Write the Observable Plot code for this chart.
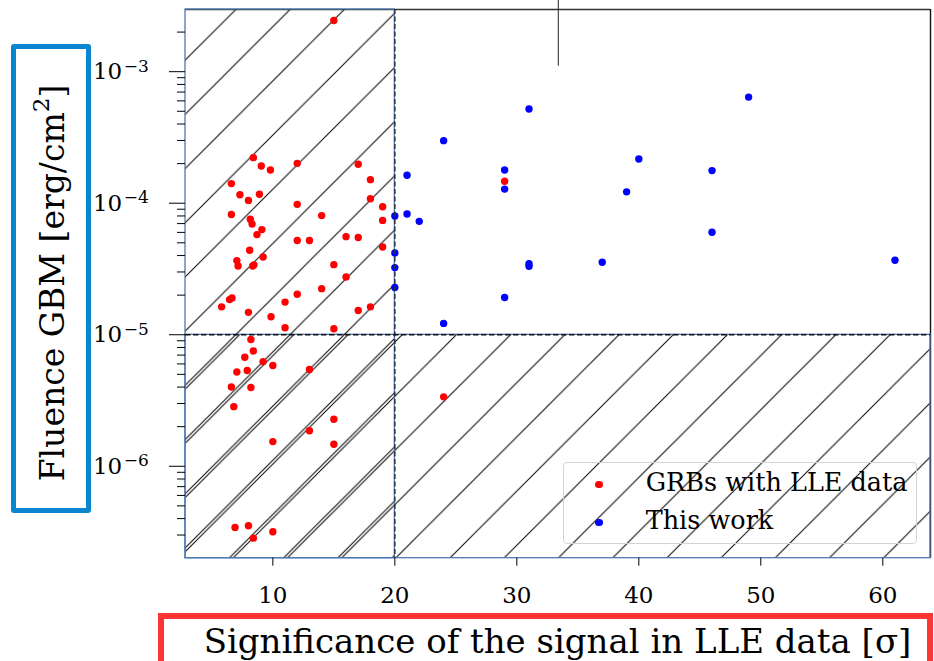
<!DOCTYPE html>
<html>
<head>
<meta charset="utf-8">
<script src="https://cdn.jsdelivr.net/npm/d3@7"></script>
<script src="https://cdn.jsdelivr.net/npm/@observablehq/plot@0.6"></script>
<style>
  body { margin: 0; background: #fff; }
  #wrap { position: relative; width: 934px; height: 661px; overflow: hidden; font-family: "DejaVu Serif", serif; color: #000; }
  #chart { position: absolute; left: 0; top: 0; }
  .ylab-box { position: absolute; left: 11px; top: 44px; width: 80px; height: 469px; box-sizing: border-box;
              border: 5.5px solid #0a85d0; border-radius: 3px; }
  .ylab { position: absolute; left: 52px; top: 283px; width: 520px; height: 33px; line-height: 33px;
          font-size: 33px; text-align: center; white-space: nowrap;
          transform: translate(-50%, -50%) rotate(-90deg); }
  .ylab sup { font-size: 0.7em; vertical-align: 0.62em; line-height: 0; }
  .xlab-box { position: absolute; left: 158px; top: 613px; width: 775px; height: 80px; box-sizing: border-box;
              border: 6px solid #fd3535; }
  .xlab { position: absolute; left: 185px; width: 745px; top: 624px; height: 34px; line-height: 34px;
          font-size: 34px; text-align: center; white-space: nowrap; }
  .legend { position: absolute; left: 563px; top: 462px; width: 354px; height: 82px; box-sizing: border-box;
            border: 1.3px solid #d4d4d4; border-radius: 4px; }
  .leg-dot { position: absolute; width: 7.4px; height: 7.4px; border-radius: 50%; }
  .leg-txt { position: absolute; font-size: 25.5px; line-height: 25.5px; white-space: nowrap; }
</style>
</head>
<body>
<svg width="0" height="0" style="position:absolute">
  <defs>
    <pattern id="hatchLeft" patternUnits="userSpaceOnUse" x="28.5" y="0" width="54.2" height="54.2">
      <path d="M-2,2 L2,-2 M-1,55.2 L55.2,-1 M52.2,56.2 L56.2,52.2" stroke="#000" stroke-width="1" fill="none"/>
    </pattern>
    <pattern id="hatchLow" patternUnits="userSpaceOnUse" x="32.3" y="0" width="54.2" height="54.2">
      <path d="M-2,2 L2,-2 M-1,55.2 L55.2,-1 M52.2,56.2 L56.2,52.2" stroke="#000" stroke-width="1" fill="none"/>
    </pattern>
  </defs>
</svg>
<div id="wrap">
  <div id="chart"></div>
  <div class="ylab-box"></div>
  <div class="ylab">Fluence GBM [erg/cm<sup>2</sup>]</div>
  <div class="xlab-box"></div>
  <div class="xlab">Significance of the signal in LLE data [σ]</div>
  <div class="legend"></div>
  <div class="leg-dot" style="left:595.3px;top:481px;background:#ff0000"></div>
  <div class="leg-txt" style="left:645.7px;top:470px">GRBs with LLE data</div>
  <div class="leg-dot" style="left:595.3px;top:519px;background:#0000ff"></div>
  <div class="leg-txt" style="left:645.7px;top:508.4px">This work</div>
</div>
<script>
// Axis extents
const xDomain = [2.84, 63.91];
const yDomain = [2.0e-7, 2.97e-3];

// Selection thresholds
const sigmaCut = 20;
const fluenceCut = 1e-5;

// GRBs with LLE data: significance [sigma] and GBM fluence [erg/cm^2]
const lleSigma = [15, 8.4, 9.05, 9.8, 12.0, 17.0, 6.6, 7.3, 8.0, 8.9, 18.0, 18.0, 19.0, 19.0, 12.0, 6.6,
  14.0, 8.15, 8.3, 9.1, 8.7, 12.0, 13.0, 16.0, 17.0, 19.0, 8.1, 9.2, 7.05, 7.15, 8.35, 8.45, 15.0, 16.0,
  14.0, 6.45, 6.65, 5.8, 8.0, 11.0, 12.0, 9.85, 11.0, 15.0, 17.0, 18.0, 8.2, 8.4, 7.7, 9.2, 10.0, 7.05,
  7.9, 13.0, 6.6, 8.2, 6.8, 15.0, 13.0, 10.0, 15.0, 6.9, 8.0, 8.4, 10.0, 24.0, 29.0];
const lleFluence = [2.45e-3, 2.22e-4, 1.92e-4, 1.79e-4, 2.01e-4, 1.98e-4, 1.41e-4, 1.16e-4, 1.05e-4, 1.17e-4,
  1.51e-4, 1.08e-4, 9.4e-5, 7.4e-5, 9.8e-5, 8.2e-5, 8.05e-5, 7.55e-5, 6.95e-5, 6.3e-5, 5.77e-5, 5.2e-5,
  5.2e-5, 5.57e-5, 5.48e-5, 4.65e-5, 4.39e-5, 3.9e-5, 3.66e-5, 3.33e-5, 3.33e-5, 3.4e-5, 3.41e-5, 2.75e-5,
  2.24e-5, 1.85e-5, 1.9e-5, 1.63e-5, 1.48e-5, 1.77e-5, 2.03e-5, 1.37e-5, 1.13e-5, 1.11e-5, 1.53e-5, 1.63e-5,
  9.2e-6, 7.53e-6, 6.74e-6, 6.25e-6, 5.83e-6, 5.21e-6, 5.35e-6, 5.44e-6, 4.01e-6, 3.97e-6, 2.84e-6, 2.28e-6,
  1.86e-6, 1.54e-6, 1.47e-6, 3.43e-7, 3.53e-7, 2.84e-7, 3.18e-7, 3.37e-6, 1.47e-4];

// This work
const workSigma = [20, 20, 20, 20, 21, 21, 22, 24, 24, 29, 29, 29, 31, 31, 31, 37, 39, 40, 49, 46, 46, 61];
const workFluence = [8.0e-5, 4.19e-5, 3.24e-5, 2.29e-5, 1.63e-4, 8.28e-5, 7.28e-5, 2.99e-4, 1.22e-5, 1.79e-4,
  1.28e-4, 1.92e-5, 5.2e-4, 3.47e-5, 3.32e-5, 3.56e-5, 1.22e-4, 2.17e-4, 6.41e-4, 1.77e-4, 6.01e-5, 3.68e-5];

// Ticks
const xTicks = [10, 20, 30, 40, 50, 60];
const yMajor = [1e-6, 1e-5, 1e-4, 1e-3];
const yMinor = [3e-7, 4e-7, 5e-7, 6e-7, 7e-7, 8e-7, 9e-7,
  2e-6, 3e-6, 4e-6, 5e-6, 6e-6, 7e-6, 8e-6, 9e-6,
  2e-5, 3e-5, 4e-5, 5e-5, 6e-5, 7e-5, 8e-5, 9e-5,
  2e-4, 3e-4, 4e-4, 5e-4, 6e-4, 7e-4, 8e-4, 9e-4, 2e-3];

// Stray marker line at the top of the axes
const markerSigma = 33.4;
const markerFluence = [1.1e-3, 3.48e-3];

const lle = lleSigma.map((s, i) => ({sigma: s, fluence: lleFluence[i]}));
const work = workSigma.map((s, i) => ({sigma: s, fluence: workFluence[i]}));

const leftRegion = [{x1: xDomain[0], x2: sigmaCut, y1: yDomain[0], y2: yDomain[1]}];
const lowRegion = [{x1: xDomain[0], x2: xDomain[1], y1: yDomain[0], y2: fluenceCut}];

const edge = "#4d79b3";

const chart = Plot.plot({
  width: 934,
  height: 661,
  marginLeft: 185,
  marginRight: 4,
  marginTop: 9,
  marginBottom: 103.3,
  style: {fontFamily: "'DejaVu Serif', serif", color: "#000", background: "transparent", overflow: "visible"},
  x: {type: "linear", domain: xDomain},
  y: {type: "log", domain: yDomain},
  marks: [
    // spines
    Plot.ruleY([yDomain[1]], {stroke: "#333", strokeWidth: 1.4}),
    Plot.ruleX([xDomain[1]], {stroke: "#111", strokeWidth: 1.4}),
    // hatched exclusion regions
    Plot.rect(lowRegion, {x1: "x1", x2: "x2", y1: "y1", y2: "y2", fill: "url(#hatchLow)", stroke: edge, strokeWidth: 1.3}),
    Plot.rect(leftRegion, {x1: "x1", x2: "x2", y1: "y1", y2: "y2", fill: "url(#hatchLeft)", stroke: edge, strokeWidth: 1.3}),
    // axes
    Plot.axisX(xTicks, {tickSize: 8, tickPadding: 20, fontSize: 23, label: null, tickFormat: d => String(d)}),
    Plot.axisY(yMinor, {tickSize: 8, tickFormat: () => "", label: null}),
    Plot.axisY(yMajor, {tickSize: 16, tickPadding: 47.3, fontSize: 23, label: null, tickFormat: () => "10"}),
    Plot.text(yMajor, {y: d => d, frameAnchor: "left", text: d => "\u2212" + Math.round(-Math.log10(d)),
      textAnchor: "start", dx: -61.8, dy: -5.6, fontSize: 17}),
    // data
    Plot.dot(lle, {x: "sigma", y: "fluence", r: 3.7, fill: "#ff0000", stroke: null}),
    Plot.dot(work, {x: "sigma", y: "fluence", r: 3.7, fill: "#0000ff", stroke: null}),
    // thresholds
    Plot.ruleX([sigmaCut], {stroke: "#2a3340", strokeWidth: 1.5, strokeDasharray: "5,2.5"}),
    Plot.ruleY([fluenceCut], {stroke: "#111", strokeWidth: 1.5, strokeDasharray: "5.5,2.5"}),
    Plot.ruleX([markerSigma], {y1: markerFluence[0], y2: markerFluence[1], stroke: "#222", strokeWidth: 1})
  ]
});
document.getElementById("chart").appendChild(chart);
</script>
</body>
</html>
